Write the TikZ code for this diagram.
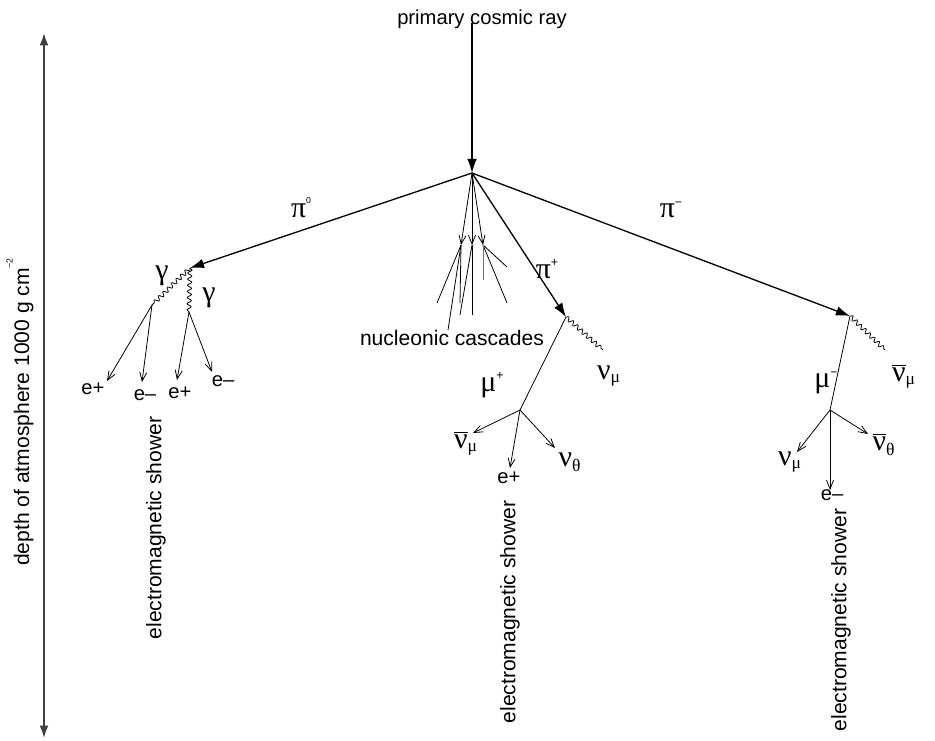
\documentclass[tikz,border=0pt]{standalone}
\usepackage{fontspec}
\setmainfont{Liberation Sans}
\newfontfamily\grk{Liberation Serif}
\usetikzlibrary{arrows.meta,decorations.pathmorphing}

\newcommand{\gk}[1]{{\grk\fontsize{17}{17}\selectfont #1}}
\newcommand{\sk}[1]{{\grk\fontsize{10}{10}\selectfont #1}}
\newcommand{\gbar}[1]{$\overline{\mbox{\gk{#1}}}$}

\tikzset{
  main/.style={-{Latex[length=8pt,width=5.5pt]}, line width=0.75pt},
  decay/.style={-{Straight Barb[length=5pt,width=4pt]}, line width=0.45pt},
  track/.style={line width=0.45pt},
  photon/.style={decorate, decoration={snake, amplitude=1.2pt, segment length=3.5pt}, line width=0.45pt},
  lbl/.style={inner sep=0pt, font=\fontsize{11.5}{12}\selectfont},
  shower/.style={rotate=90, inner sep=0pt, font=\fontsize{12}{14}\selectfont},
}

\begin{document}
\begin{tikzpicture}[x=0.02cm,y=-0.02cm]
    \useasboundingbox (0,0) rectangle (935,740);

    % depth axis
    \coordinate (axtop) at (44,33);
    \coordinate (axbot) at (44,738);
    \draw[{Latex[length=7pt,width=5pt]}-{Latex[length=7pt,width=5pt]}, line width=1pt, black!75] (axtop) -- (axbot);
    \node[rotate=90, inner sep=0pt, font=\fontsize{12}{14}\selectfont] (depth) at (20,412)
        {depth of atmosphere 1000 g cm\raisebox{1.5ex}{\tiny −2}};

    % primary and first interaction
    \node[inner sep=0pt, font=\fontsize{11.5}{12}\selectfont] (ray) at (482,19) {primary cosmic ray};
    \coordinate (V) at (472,173);
    \coordinate (g) at (190,268);
    \coordinate (p) at (566,317);
    \coordinate (m) at (850,316);
    \draw[main] (ray.south -| V) ++(0,-6) -- (V);
    \draw[main] (V) -- (g);
    \draw[main] (V) -- (p);
    \draw[main] (V) -- (m);
    \node[lbl] (pi0) at (301,208) {\gk{π}\raisebox{1.3ex}{\tiny 0}};
    \node[lbl] (pim) at (671,210) {\gk{π}\raisebox{1.1ex}{\scriptsize −}};
    \node[lbl] (pip) at (547,269) {\gk{π}\raisebox{1.1ex}{\scriptsize +}};

    % nucleonic cascades
    \coordinate (c1) at (461,245);
    \coordinate (c2) at (472,245);
    \coordinate (c3) at (483,245);
    \foreach \c in {c1,c2,c3}
        \draw[decay] (V) -- (\c);
    \foreach \e in {(437,303),(460,303),(448,330)}
        \draw[track] (c1) -- \e;
    \foreach \e in {(460,315),(472,315)}
        \draw[track] (c2) -- \e;
    \foreach \e in {(507,267),(507,303)}
        \draw[track] (c3) -- \e;
    \draw[track, black!55] (c3) -- (483,280);
    \node[inner sep=0pt, font=\fontsize{12}{12}\selectfont] (nuc) at (452,338) {nucleonic cascades};

    % pi0 branch
    \coordinate (g1) at (152,305);
    \coordinate (g2) at (189,312);
    \draw[photon] (g) -- (g1);
    \draw[photon] (g) -- (g2);
    \node[lbl] (gam1) at (162,276) {\gk{γ}};
    \node[lbl] (gam2) at (209,298) {\gk{γ}};
    \draw[decay] (g1) -- (107,381);
    \draw[decay] (g1) -- (142,382);
    \draw[decay] (g2) -- (177,380);
    \draw[decay] (g2) -- (212,372);
    \node[lbl] (e1) at (93,389) {e+};
    \node[lbl] (e2) at (145,395) {e–};
    \node[lbl] (e3) at (180,393) {e+};
    \node[lbl] (e4) at (223,381) {e–};
    \node[shower] (sh1) at (156,528) {electromagnetic shower};

    % pi+ branch
    \coordinate (nup) at (603,350);
    \coordinate (mp) at (520,410);
    \draw[photon] (p) -- (nup);
    \node[lbl] (nupl) at (609,376) {\gk{ν}\textsubscript{\sk{μ}}};
    \draw[track] (p) -- (mp);
    \node[lbl] (mupl) at (492,385) {\gk{μ}\raisebox{1.1ex}{\scriptsize +}};
    \draw[decay] (mp) -- (473,433);
    \draw[decay] (mp) -- (510,468);
    \draw[decay] (mp) -- (555,448);
    \node[lbl] (nb1) at (466,443) {\gbar{ν}\textsubscript{\sk{μ}}};
    \node[lbl] (ep) at (509,478) {e+};
    \node[lbl] (nt1) at (570,462) {\gk{ν}\textsubscript{\sk{θ}}};
    \node[shower] (sh2) at (510,612) {electromagnetic shower};

    % pi- branch
    \coordinate (num) at (885,350);
    \coordinate (mm) at (830,410);
    \draw[photon] (m) -- (num);
    \node[lbl] (numl) at (904,376) {\gbar{ν}\textsubscript{\sk{μ}}};
    \draw[track] (m) -- (mm);
    \node[lbl] (mumi) at (826,383) {\gk{μ}\raisebox{1.1ex}{\scriptsize −}};
    \draw[decay] (mm) -- (797,452);
    \draw[decay] (mm) -- (830,490);
    \draw[decay] (mm) -- (868,434);
    \node[lbl] (nm2) at (790,462) {\gk{ν}\textsubscript{\sk{μ}}};
    \node[lbl] (em) at (832,495) {e–};
    \node[lbl] (nt2) at (884,444) {\gbar{ν}\textsubscript{\sk{θ}}};
    \node[shower] (sh3) at (841,620) {electromagnetic shower};
\end{tikzpicture}
\end{document}
